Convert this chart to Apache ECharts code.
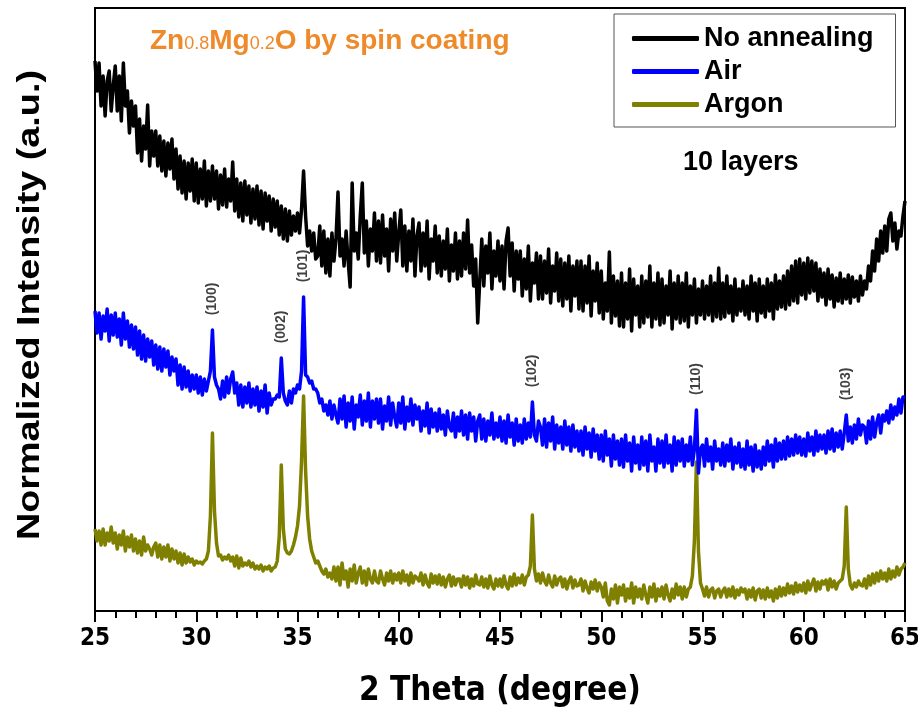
<!DOCTYPE html>
<html style="height: 100%">
<head>
<meta charset="utf-8">
<script src="https://cdn.jsdelivr.net/npm/echarts@6/dist/echarts.min.js"></script>
</head>
<body style="height: 100%; margin: 0; background: #fff">
<div id="main" style="width: 918px; height: 719px;"></div>
<script type="text/javascript">
// 2 theta scan positions (degree)
var angle = [
  25,25.1,25.2,25.3,25.4,25.5,25.6,25.7,25.8,25.9,
  26,26.1,26.2,26.3,26.4,26.5,26.6,26.7,26.8,26.9,
  27,27.1,27.2,27.3,27.4,27.5,27.6,27.7,27.8,27.9,
  28,28.1,28.2,28.3,28.4,28.5,28.6,28.7,28.8,28.9,
  29,29.1,29.2,29.3,29.4,29.5,29.6,29.7,29.8,29.9,
  30,30.1,30.2,30.3,30.4,30.5,30.6,30.7,30.8,30.9,
  31,31.1,31.2,31.3,31.4,31.5,31.6,31.7,31.8,31.9,
  32,32.1,32.2,32.3,32.4,32.5,32.6,32.7,32.8,32.9,
  33,33.1,33.2,33.3,33.4,33.5,33.6,33.7,33.8,33.9,
  34,34.1,34.2,34.3,34.4,34.5,34.6,34.7,34.8,34.9,
  35,35.1,35.2,35.3,35.4,35.5,35.6,35.7,35.8,35.9,
  36,36.1,36.2,36.3,36.4,36.5,36.6,36.7,36.8,36.9,
  37,37.1,37.2,37.3,37.4,37.5,37.6,37.7,37.8,37.9,
  38,38.1,38.2,38.3,38.4,38.5,38.6,38.7,38.8,38.9,
  39,39.1,39.2,39.3,39.4,39.5,39.6,39.7,39.8,39.9,
  40,40.1,40.2,40.3,40.4,40.5,40.6,40.7,40.8,40.9,
  41,41.1,41.2,41.3,41.4,41.5,41.6,41.7,41.8,41.9,
  42,42.1,42.2,42.3,42.4,42.5,42.6,42.7,42.8,42.9,
  43,43.1,43.2,43.3,43.4,43.5,43.6,43.7,43.8,43.9,
  44,44.1,44.2,44.3,44.4,44.5,44.6,44.7,44.8,44.9,
  45,45.1,45.2,45.3,45.4,45.5,45.6,45.7,45.8,45.9,
  46,46.1,46.2,46.3,46.4,46.5,46.6,46.7,46.8,46.9,
  47,47.1,47.2,47.3,47.4,47.5,47.6,47.7,47.8,47.9,
  48,48.1,48.2,48.3,48.4,48.5,48.6,48.7,48.8,48.9,
  49,49.1,49.2,49.3,49.4,49.5,49.6,49.7,49.8,49.9,
  50,50.1,50.2,50.3,50.4,50.5,50.6,50.7,50.8,50.9,
  51,51.1,51.2,51.3,51.4,51.5,51.6,51.7,51.8,51.9,
  52,52.1,52.2,52.3,52.4,52.5,52.6,52.7,52.8,52.9,
  53,53.1,53.2,53.3,53.4,53.5,53.6,53.7,53.8,53.9,
  54,54.1,54.2,54.3,54.4,54.5,54.6,54.7,54.8,54.9,
  55,55.1,55.2,55.3,55.4,55.5,55.6,55.7,55.8,55.9,
  56,56.1,56.2,56.3,56.4,56.5,56.6,56.7,56.8,56.9,
  57,57.1,57.2,57.3,57.4,57.5,57.6,57.7,57.8,57.9,
  58,58.1,58.2,58.3,58.4,58.5,58.6,58.7,58.8,58.9,
  59,59.1,59.2,59.3,59.4,59.5,59.6,59.7,59.8,59.9,
  60,60.1,60.2,60.3,60.4,60.5,60.6,60.7,60.8,60.9,
  61,61.1,61.2,61.3,61.4,61.5,61.6,61.7,61.8,61.9,
  62,62.1,62.2,62.3,62.4,62.5,62.6,62.7,62.8,62.9,
  63,63.1,63.2,63.3,63.4,63.5,63.6,63.7,63.8,63.9,
  64,64.1,64.2,64.3,64.4,64.5,64.6,64.7,64.8,64.9,
  65
];

// normalized intensity, patterns stacked with offsets (a.u.)
var noAnnealing = [
  550,520,548,505,535,495,530,540,500,525,
  545,500,535,490,548,505,520,478,510,485,
  505,458,492,450,485,462,506,445,480,455,
  480,445,475,440,470,435,468,442,472,432,
  462,422,455,418,450,412,448,420,452,410,
  448,408,442,412,450,405,440,410,445,412,
  440,402,436,406,442,404,432,410,449,400,
  432,394,428,390,430,396,425,388,422,392,
  425,386,420,382,418,390,415,380,412,384,
  410,376,405,372,402,370,400,376,395,380,
  398,378,402,440,395,365,380,360,378,352,
  355,385,345,380,338,372,335,378,350,372,
  419,355,372,345,380,350,324,428,360,378,
  352,395,428,358,390,345,382,360,398,350,
  390,348,396,355,382,340,392,360,398,350,
  378,401,345,385,340,380,350,392,335,375,
  388,340,378,345,390,332,372,350,385,338,
  375,335,370,342,382,330,366,340,378,332,
  370,335,378,342,391,338,366,325,352,288,
  330,372,325,365,338,378,322,360,335,370,
  330,365,322,370,383,335,368,320,360,332,
  360,315,352,322,365,310,348,328,358,312,
  355,312,350,318,362,308,345,320,358,310,
  352,305,348,312,355,300,345,315,350,302,
  350,300,345,308,355,295,340,310,348,298,
  340,292,328,300,359,288,335,295,330,285,
  338,284,328,292,342,280,332,296,325,284,
  335,288,330,294,345,284,328,292,338,286,
  332,288,325,296,340,282,328,292,335,288,
  328,290,338,284,325,296,332,288,322,296,
  330,292,325,296,335,290,328,294,343,292,
  328,294,335,298,325,290,332,296,322,300,
  330,296,325,292,335,300,328,290,332,298,
  325,294,332,300,328,292,336,302,330,304,
  335,302,340,306,345,310,350,308,352,316,
  348,312,353,318,350,320,348,310,342,314,
  338,306,342,312,336,304,333,310,338,308,
  332,312,336,308,334,314,330,310,335,316,
  330,322,345,330,360,340,372,350,380,358,
  385,360,392,398,370,388,362,380,375,395,
  410
];

var air = [
  300,278,298,272,295,280,302,270,296,276,
  298,274,292,266,298,272,290,264,286,262,
  284,256,280,252,276,250,272,254,270,246,
  266,242,264,240,262,244,260,236,254,240,
  252,226,246,222,244,224,240,220,236,222,
  236,218,234,216,232,220,230,240,281,234,
  226,222,212,230,214,234,218,232,239,218,
  228,206,226,204,224,208,228,204,222,206,
  224,200,220,204,226,198,218,206,212,212,
  216,214,253,218,210,206,220,208,222,218,
  226,222,240,314,236,234,228,230,222,222,
  218,208,212,200,206,196,210,192,206,196,
  188,212,192,215,184,208,190,214,182,206,
  194,216,186,210,190,218,184,210,192,212,
  188,212,182,205,190,214,186,208,194,184,
  208,188,214,182,204,190,212,186,206,192,
  204,180,200,185,208,178,202,184,198,180,
  202,182,196,176,200,184,180,198,174,194,
  180,200,176,196,172,198,180,194,170,190,
  196,172,192,170,190,176,198,172,188,174,
  194,170,190,168,196,174,188,166,192,170,
  186,168,192,172,188,174,209,176,170,190,
  184,166,192,164,188,170,194,162,186,168,
  184,162,190,166,184,160,186,164,180,160,
  180,156,184,162,178,154,182,160,176,152,
  176,150,180,156,172,145,176,152,170,146,
  172,144,176,150,168,140,174,148,166,142,
  174,146,170,140,176,150,164,140,172,148,
  170,144,176,148,166,140,174,146,170,150,
  172,145,166,150,174,146,162,201,138,162,
  166,145,172,150,164,142,170,150,162,146,
  168,145,166,150,172,142,164,148,168,144,
  162,142,170,146,164,140,166,144,160,142,
  164,146,170,150,166,144,172,150,168,152,
  170,152,174,155,172,156,176,158,174,156,
  172,155,178,160,174,156,180,160,176,162,
  176,158,180,162,182,160,178,164,180,162,
  178,196,170,184,168,186,172,192,176,186,
  184,168,190,172,194,174,188,196,178,196,
  190,200,188,206,192,204,196,212,198,214,
  214
];

var argon = [
  82,70,80,66,82,66,78,70,84,68,
  78,62,76,66,80,60,74,64,76,60,
  72,58,70,56,74,60,66,62,56,64,
  68,54,66,52,64,54,66,50,62,52,
  60,48,58,46,57,48,54,49,52,46,
  50,48,49,47,50,52,60,95,178,100,
  68,55,56,51,54,52,56,50,54,45,
  55,43,53,45,48,46,50,44,48,42,
  45,42,46,40,44,42,45,40,43,44,
  50,75,146,82,62,58,57,60,66,74,
  85,105,150,215,140,95,72,60,54,48,
  50,45,40,37,42,34,38,32,44,30,
  44,26,48,32,40,24,42,30,46,28,
  38,44,28,40,26,42,32,28,40,30,
  28,40,32,26,38,30,40,28,37,31,
  38,28,40,30,36,26,38,28,35,33,
  30,38,26,36,28,24,37,28,35,27,
  36,26,34,24,32,36,25,34,26,32,
  32,24,35,26,34,23,32,25,36,27,
  26,34,24,32,23,35,26,22,32,25,
  32,24,35,26,22,34,25,37,26,33,
  28,36,26,34,36,45,96,42,30,37,
  28,38,30,26,36,28,24,35,26,32,
  34,24,32,22,30,34,23,31,25,26,
  32,20,30,23,18,29,22,31,20,28,
  24,14,28,10,6,22,12,26,8,24,
  16,26,10,22,13,28,8,24,14,22,
  12,26,16,8,24,14,27,10,22,15,
  24,12,26,16,10,22,13,27,16,24,
  12,24,14,22,24,35,70,149,60,28,
  22,15,24,14,21,23,13,20,22,14,
  20,23,14,22,15,24,13,21,16,23,
  19,22,12,21,14,23,11,20,22,13,
  21,12,23,14,20,10,22,13,24,15,
  23,16,27,18,25,17,28,19,26,20,
  28,18,30,21,27,32,20,29,22,30,
  27,31,21,32,24,30,22,28,30,32,
  45,104,42,26,22,28,24,30,26,25,
  32,23,35,26,37,28,38,30,40,32,
  38,30,42,32,40,34,44,36,42,44,
  48
];

var seriesNames = ['No annealing', 'Air', 'Argon'];
var seriesColors = ['#000000', '#0000ff', '#808000'];

// ZnO reflections marked above the Air pattern
var peakNames = ['(100)', '(002)', '(101)', '(102)', '(110)', '(103)'];
var peakAngle = [30.8, 34.2, 35.3, 46.6, 54.7, 62.1];

var xTicks = [25, 30, 35, 40, 45, 50, 55, 60, 65];

function pairs(ys) {
    var out = [];
    for (var i = 0; i < angle.length; i++) out.push([angle[i], ys[i]]);
    return out;
}

var peakData = [];
for (var k = 0; k < peakNames.length; k++) {
    var idx = angle.indexOf(peakAngle[k]);
    // label sits a little above the air peak
    peakData.push({ value: [peakAngle[k], air[idx] + 31], name: peakNames[k] });
}

var narrow = "'Liberation Sans Narrow', 'DejaVu Sans Condensed', sans-serif";
var arial = "'Liberation Sans', Arial, sans-serif";

var dom = document.getElementById('main');
var myChart = echarts.init(dom, null, { renderer: 'canvas' });

var allSeries = [noAnnealing, air, argon].map(function (ys, n) {
    return {
        name: seriesNames[n],
        type: 'line',
        data: pairs(ys),
        showSymbol: false,
        symbol: 'none',
        z: 3 - n,
        lineStyle: { color: seriesColors[n], width: 3.5, join: 'round' },
        itemStyle: { color: seriesColors[n] }
    };
});

allSeries.push({
    name: 'peaks',
    type: 'scatter',
    data: peakData,
    symbolSize: 0,
    z: 5,
    label: {
        show: true,
        position: 'inside',
        rotate: 90,
        formatter: '{b}',
        fontSize: 14,
        fontWeight: 'bold',
        color: '#111',
        fontFamily: arial
    }
});

var option = {
    backgroundColor: '#fff',
    animation: false,
    grid: {
        left: 95, right: 13, top: 8, bottom: 108,
        show: true, borderColor: '#000', borderWidth: 2,
        containLabel: false, outerBoundsMode: 'none'
    },
    legend: {
        data: seriesNames,
        orient: 'vertical',
        left: 614, top: 14,
        padding: [11, 22, 9, 18],
        itemGap: 6,
        itemWidth: 67,
        itemHeight: 5,
        icon: 'roundRect',
        borderColor: '#555',
        borderWidth: 1,
        selectedMode: false,
        textStyle: { fontSize: 27, fontWeight: 'bold', color: '#000', fontFamily: arial }
    },
    xAxis: {
        type: 'value',
        min: 25, max: 65, interval: 5,
        name: '2 Theta (degree)',
        nameLocation: 'middle',
        nameGap: 64,
        nameTextStyle: { fontSize: 33, fontWeight: 'bold', color: '#000', fontFamily: narrow },
        axisLine: { lineStyle: { color: '#000', width: 2 } },
        axisTick: { length: 11, lineStyle: { color: '#000', width: 2 } },
        minorTick: { show: true, splitNumber: 5, length: 7, lineStyle: { color: '#000', width: 2 } },
        splitLine: { show: false },
        axisLabel: {
            margin: 16, fontSize: 24, fontWeight: 'bold', color: '#000', fontFamily: narrow,
            formatter: function (v) { return xTicks.indexOf(v) >= 0 ? String(v) : ''; }
        }
    },
    yAxis: {
        type: 'value',
        min: 0, max: 603,
        axisLine: { show: true, lineStyle: { color: '#000', width: 2 } },
        axisTick: { show: false },
        axisLabel: { show: false },
        splitLine: { show: false }
    },
    graphic: [
        {
            // y axis title, stretched along its length like the original
            type: 'text', x: 30, y: 305, rotation: Math.PI / 2, scaleX: 1.18, z: 10,
            style: {
                text: 'Normalized Intensity (a.u.)', align: 'center', verticalAlign: 'middle',
                fontSize: 32, fontWeight: 'bold', fill: '#000', fontFamily: arial
            }
        },
        {
            type: 'text', left: 150, top: 27, z: 10,
            style: {
                text: '{a|Zn}{s|0.8}{a|Mg}{s|0.2}{a|O by spin coating}',
                rich: {
                    a: { fontSize: 28, fontWeight: 'bold', fill: '#ee8a2a', fontFamily: arial },
                    s: { fontSize: 18, fill: '#ee8a2a', fontFamily: arial, padding: [6, 0, 0, 0] }
                }
            }
        },
        {
            type: 'text', left: 683, top: 149, z: 10,
            style: { text: '10 layers', fontSize: 27, fontWeight: 'bold', fill: '#000', fontFamily: arial }
        }
    ],
    series: allSeries
};

if (option && typeof option === 'object') {
    myChart.setOption(option, true);
}
</script>
</body>
</html>
